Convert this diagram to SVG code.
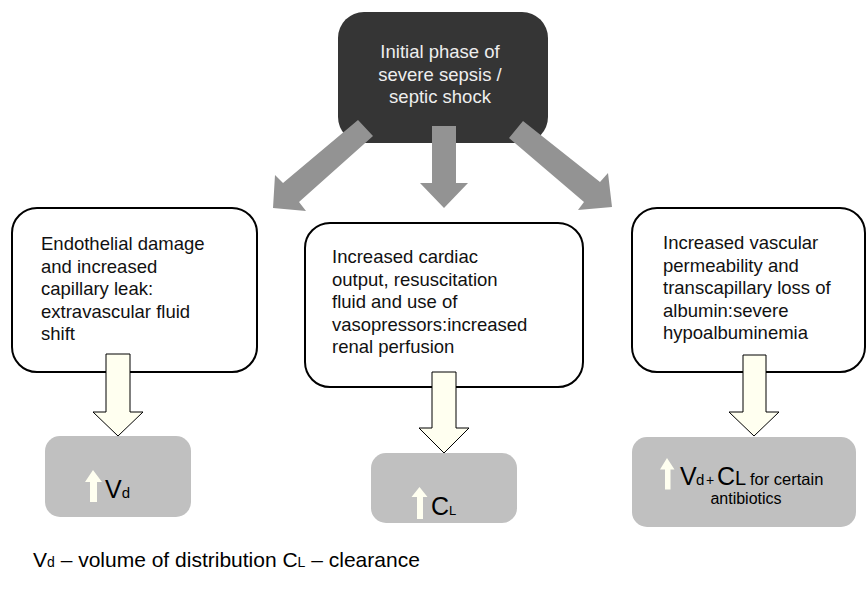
<svg xmlns="http://www.w3.org/2000/svg" width="866" height="598" viewBox="0 0 866 598">
<style>
.t{font-family:"Liberation Sans",Arial,sans-serif;font-size:18.5px;fill:#111}
.top{font-family:"Liberation Sans",Arial,sans-serif;font-size:18.5px;fill:#eeeeee;text-anchor:middle}
.box{fill:#ffffff;stroke:#000;stroke-width:2}
.res{fill:#c0c0c0}
.ga{fill:#939393}
.ca{fill:#fffff0;stroke:#000;stroke-width:1}
.up{fill:#fffff0}
.big{font-family:"Liberation Sans",Arial,sans-serif;fill:#000}
</style>
<rect width="866" height="598" fill="#ffffff"/>
<g id="root">
<rect x="338" y="12" width="210" height="131" rx="26" fill="#353535"/>
<text class="top" x="440" y="58">Initial phase of</text>
<text class="top" x="440" y="80.5">severe sepsis /</text>
<text class="top" x="440" y="103">septic shock</text>
</g>
<g id="box1">
<rect class="box" x="12" y="208" width="245" height="164" rx="25"/>
<text class="t" x="41" y="250">Endothelial damage</text>
<text class="t" x="41" y="272.5">and increased</text>
<text class="t" x="41" y="295">capillary leak:</text>
<text class="t" x="41" y="317.5">extravascular fluid</text>
<text class="t" x="41" y="340">shift</text>
</g>
<g id="box2">
<rect class="box" x="305" y="223" width="278" height="164" rx="25"/>
<text class="t" x="332" y="263">Increased cardiac</text>
<text class="t" x="332" y="285.5">output, resuscitation</text>
<text class="t" x="332" y="308">fluid and use of</text>
<text class="t" x="332" y="330.5">vasopressors:increased</text>
<text class="t" x="332" y="353">renal perfusion</text>
</g>
<g id="box3">
<rect class="box" x="632" y="208" width="233" height="164" rx="25"/>
<text class="t" x="663" y="249">Increased vascular</text>
<text class="t" x="663" y="271.5">permeability and</text>
<text class="t" x="663" y="294">transcapillary loss of</text>
<text class="t" x="663" y="316.5">albumin:severe</text>
<text class="t" x="663" y="339">hypoalbuminemia</text>
</g>
<g id="res1">
<rect class="res" x="45" y="436" width="146" height="81" rx="15"/>
<polygon class="up" points="93,470 102,482 97,482 97,502 90,502 90,482 85,482"/>
<text class="big" x="105" y="498" font-size="25">V<tspan font-size="15">d</tspan></text>
</g>
<g id="res2">
<rect class="res" x="371" y="453" width="146" height="70" rx="15"/>
<polygon class="up" points="419.5,487 427.5,497 423,497 423,519 417,519 417,497 411.5,497"/>
<text class="big" x="431" y="515" font-size="25">C<tspan font-size="13">L</tspan></text>
</g>
<g id="res3">
<rect class="res" x="632" y="437" width="224" height="90" rx="15"/>
<polygon class="up" points="667,458 674.5,469.5 670.5,469.5 670.5,489.5 665,489.5 665,469.5 660,469.5"/>
<text class="big" y="484.5"><tspan x="680" font-size="25">V</tspan><tspan x="696" font-size="15">d</tspan><tspan x="706" font-size="14">+</tspan><tspan x="717" font-size="25">C</tspan><tspan x="735" font-size="20">L</tspan><tspan x="750" font-size="16.5">for certain</tspan></text>
<text class="big" x="746" y="503.5" font-size="16" text-anchor="middle">antibiotics</text>
</g>
<g id="connectors">
<polygon class="ga" points="358,120 373,136 299,202 306,211 273,208 275,175 283,183"/>
<polygon class="ga" points="432,126 456,126 456,183 468,183 444,208 420,183 432,183"/>
<polygon class="ga" points="523,121 600,182 608,173 612,207 578,210 584,202 509,138"/>
<polygon class="ca" points="106,354 130,354 130,412 143,412 118,436 93,412 106,412"/>
<polygon class="ca" points="432,372 456,372 456,428 469,428 444,453 419,428 432,428"/>
<polygon class="ca" points="743,355 766,355 766,412 779,412 754,436 729,412 743,412"/>
</g>
<g id="legend">
<text class="big" x="33" y="567" font-size="21" fill="#111">V<tspan font-size="14">d</tspan> – volume of distribution C<tspan font-size="14">L</tspan> – clearance</text>
</g>
</svg>
